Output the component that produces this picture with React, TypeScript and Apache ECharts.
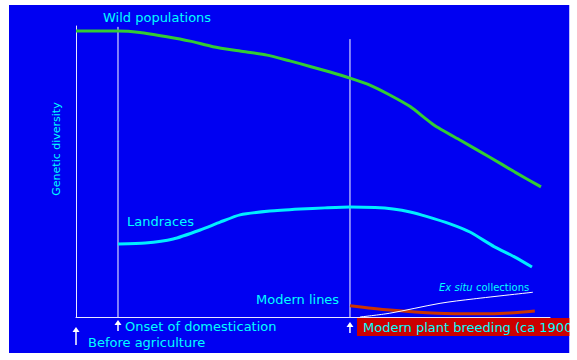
import React, { useEffect, useRef } from "react";
import * as echarts from "echarts";

// Relative time (0 = before agriculture, 100 = present) vs relative genetic diversity
const wildX = [0, 8.86, 13.5, 19.2, 24.05, 28.9, 34.6, 40.3, 45.1, 49.4, 53.6, 57.8, 62.0, 66.2, 70.5, 75.5, 81.0, 87.3, 92.6, 98.1];
const wildY = [98.3, 98.3, 97.8, 96.3, 94.8, 92.9, 91.4, 90.0, 88.0, 86.1, 84.2, 82.1, 79.7, 76.3, 72.3, 66.0, 60.8, 54.9, 49.8, 44.7];

const landraceX = [8.86, 14.6, 20.5, 26.2, 30.4, 34.6, 40.9, 47.3, 52.5, 57.8, 63.1, 66.9, 70.5, 74.1, 78.9, 83.1, 88.2, 92.6, 96.2];
const landraceY = [25.1, 25.4, 26.8, 29.9, 32.6, 35.1, 36.4, 37.1, 37.5, 37.8, 37.6, 37.1, 36.1, 34.5, 32.0, 29.2, 24.2, 20.6, 17.2];

const modernX = [57.8, 66.2, 76.2, 85.2, 91.6, 96.8];
const modernY = [3.9, 2.4, 1.3, 1.1, 1.4, 2.1];

const exSituX = [59.9, 66.2, 76.8, 83.8, 96.4];
const exSituY = [0, 1.3, 4.7, 6.2, 8.5];

const milestoneX = [0, 8.86, 57.8];
const milestoneTop = [0, 99.7, 95.5];
const milestoneLabels = ["Before agriculture", "Onset of domestication", "Modern plant breeding (ca 1900)"];

const seriesLabels = ["Wild populations", "Landraces", "Modern lines"];
const yAxisTitle = "Genetic diversity";

const FONT = "DejaVu Sans";
const CYAN = "#00FFFF";
const BLUE = "#0000F2";

function pairs(xs: number[], ys: number[]) {
  return xs.map((x, i) => [x, ys[i]]);
}

export default function App() {
  const ref = useRef<HTMLDivElement>(null);
  useEffect(() => {
    const chart = echarts.init(ref.current!, null, { renderer: "svg" });
    const lineSeries = (data: number[][], color: string, width: number, smooth: number | boolean, z = 3) => ({
      type: "line",
      data,
      smooth,
      symbol: "none",
      lineStyle: { color, width },
      z,
    });
    const series: any[] = [
      lineSeries(pairs(wildX, wildY), "#33CC33", 3, 0.2),
      lineSeries(pairs(landraceX, landraceY), "#00EEFF", 3, 0.2),
      lineSeries(pairs(modernX, modernY), "#CC3300", 3, 0.3),
      lineSeries(pairs(exSituX, exSituY), "#FFFFFF", 1, 0.3),
      lineSeries([[milestoneX[1], 0], [milestoneX[1], milestoneTop[1]]], "#FFFFFF", 1, false, 2),
      lineSeries([[milestoneX[2], 0], [milestoneX[2], milestoneTop[2]]], "#FFFFFF", 1, false, 2),
    ];
    const option: any = {
      animation: false,
      backgroundColor: "#FFFFFF",
      grid: { left: 76, right: 27, top: 26, bottom: 43 },
      xAxis: {
        type: "value", min: 0, max: 100,
        axisLine: { show: true, lineStyle: { color: "#E8E8FF", width: 1 } },
        axisTick: { show: false }, axisLabel: { show: false }, splitLine: { show: false },
      },
      yAxis: {
        type: "value", min: 0, max: 100,
        axisLine: { show: true, lineStyle: { color: "#E8E8FF", width: 1 } },
        axisTick: { show: false }, axisLabel: { show: false }, splitLine: { show: false },
      },
      series,
    };
    chart.setOption(option);

    const px = (x: number, y: number) => chart.convertToPixel({ gridIndex: 0 }, [x, y]) as number[];
    const arrow = (x: number, top: number, bottom: number) => ({
      type: "group",
      children: [
        { type: "line", shape: { x1: x, y1: top + 4, x2: x, y2: bottom }, style: { stroke: "#FFFFFF", lineWidth: 1.5 } },
        { type: "polygon", shape: { points: [[x, top], [x - 3.5, top + 5], [x + 3.5, top + 5]] }, style: { fill: "#FFFFFF" } },
      ],
    });
    const txt = (text: string, x: number, y: number, extra: any = {}) => ({
      type: "text",
      x, y,
      style: { text, fill: CYAN, font: `13px '${FONT}'`, align: "left", verticalAlign: "middle", ...extra },
    });
    const m0 = px(milestoneX[0], 0);
    const m1 = px(milestoneX[1], 0);
    const m2 = px(milestoneX[2], 0);

    chart.setOption({
      graphic: [
        { type: "rect", shape: { x: 9, y: 5, width: 560.5, height: 348 }, style: { fill: BLUE }, z: -10, silent: true },
        txt(seriesLabels[0], 103, 17),
        txt(seriesLabels[1], 127, 221),
        txt(seriesLabels[2], 256, 299),
        {
          type: "text", x: 439, y: 287,
          style: {
            text: "{i|Ex situ} {n|collections}",
            verticalAlign: "middle",
            rich: {
              i: { fill: CYAN, font: `italic 10px '${FONT}'` },
              n: { fill: CYAN, font: `10px '${FONT}'` },
            },
          },
        },
        {
          type: "text", x: 56, y: 149, rotation: Math.PI / 2,
          style: { text: yAxisTitle, fill: CYAN, font: `11px '${FONT}'`, align: "center", verticalAlign: "middle" },
        },
        arrow(m0[0], m0[1] + 10, m0[1] + 28),
        arrow(m1[0], m1[1] + 3, m1[1] + 14),
        arrow(m2[0], m2[1] + 5, m2[1] + 16),
        txt(milestoneLabels[0], 88, 342),
        txt(milestoneLabels[1], 125, 326),
        { type: "rect", shape: { x: 357, y: 318, width: 213, height: 18 }, style: { fill: "#CC0000" } },
        txt(milestoneLabels[2], 363, 327),
        { type: "rect", shape: { x: 569.5, y: 0, width: 8, height: 360 }, style: { fill: "#FFFFFF" }, z: 100 },
      ],
    });
    return () => chart.dispose();
  }, []);
  return (
    <div style={{ position: "fixed", left: 0, top: 0, width: 577, height: 360, background: "#fff" }}>
      <div ref={ref} style={{ width: 577, height: 360 }} />
    </div>
  );
}
